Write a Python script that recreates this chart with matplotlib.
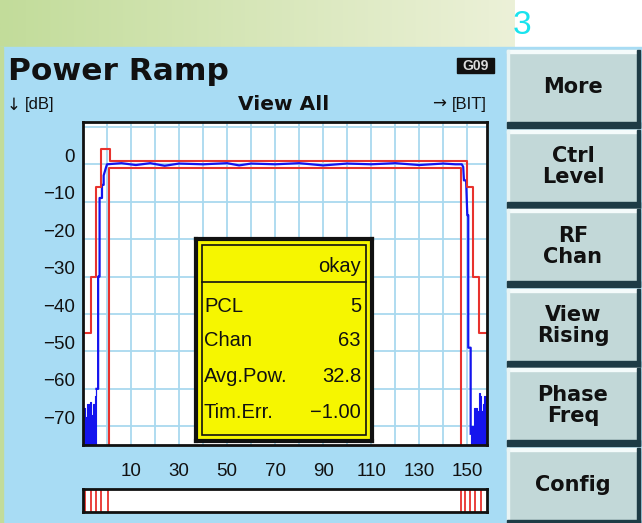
"""Power Ramp screen of a GSM tester, redrawn with matplotlib."""

import matplotlib
matplotlib.use("Agg")  # Non-interactive backend
import matplotlib.pyplot as plt
import matplotlib.transforms as mtransforms
from matplotlib.colors import LinearSegmentedColormap
from matplotlib.patches import Rectangle
import numpy as np

# ---- data ---------------------------------------------------------------
x_ticks = [10, 30, 50, 70, 90, 110, 130, 150]
x_minor = [-10, 0, 20, 40, 60, 80, 100, 120, 140]
y_ticks = [0, -10, -20, -30, -40, -50, -60, -70]
y_minor = [10]

# upper template (red)
upper_x = [-9.9, -6.8, -6.8, -4.4, -4.4, -2.5, -2.5, 1.1, 1.1,
           150.0, 150.0, 152.2, 152.2, 155.0, 155.0, 158.2]
upper_y = [-45, -45, -30, -30, -6, -6, 4, 4, 1,
           1, -6, -6, -30, -30, -45, -45]

# lower template (red)
lower_x = [0.7, 0.7, 147.4, 147.4]
lower_y = [-75, -1, -1, -75]

# measured burst (blue)
burst_x = [-4.4, -4.0, -3.7, -3.7, -3.1, -3.1, -2.1, -2.1, -1.4, -1.4, -0.5, 0.0,
           6, 12, 18, 24, 30, 40, 50, 55, 60, 70, 80, 90, 100, 110, 120,
           130, 140, 145, 147.7,
           148.3, 148.6, 149.5, 150.0, 150.4, 150.4, 151.4, 151.4]
burst_y = [-60, -60, -60, -30, -30, -9, -9, -5.5, -5.5, -3, -1, 0,
           0.3, -0.2, 0.3, -0.4, 0.2, 0.0, 0.3, -0.3, 0.2, 0.0, 0.3, -0.3, 0.2, 0.0, 0.3,
           -0.2, 0.2, 0.0, 0.0,
           -0.7, -4.3, -4.3, -13.6, -13.6, -49, -49, -72]

# noise floor before / after the burst (blue)
noise_l_x = [-9.9, -9.4, -8.9, -8.4, -7.9, -7.4, -6.9, -6.4, -5.9, -5.4, -4.9, -4.4]
noise_l_y = [-65, -65, -67.5, -68, -64, -64, -63.5, -67, -67, -64, -62, -60]
noise_r_x = [151.4, 152.0, 152.6, 153.2, 153.8, 154.4, 155.0, 155.6, 156.2, 156.8, 157.4, 158.2]
noise_r_y = [-72, -70, -70, -65, -65, -66, -61, -62, -66, -64, -62, -66]

# template transition markers in the strip below the graph
marker_x = [-9.0, -6.6, -4.4, -2.5, 0.7, 147.2, 149.2, 151.2, 153.2, 155.6]

result_labels = ["PCL", "Chan", "Avg.Pow.", "Tim.Err."]
result_values = ["5", "63", "32.8", "\u22121.00"]

button_labels = ["More", "Ctrl\nLevel", "RF\nChan", "View\nRising", "Phase\nFreq", "Config"]

# ---- style ----------------------------------------------------------------
W, H = 642, 523
PANEL = "#a8dcf4"
GRID = "#a9d9ef"
RED = "#e8322d"
BLUE = "#1414ee"
INK = "#111111"
FACE = "#c2d8d8"
DARK = "#1e3b45"
REG = ["Liberation Sans", "DejaVu Sans"]
BOLD = ["DejaVu Sans"]


def fig_rect(x0, y0, x1, y1):
    """Pixel box (top-left origin) -> figure fraction rect."""
    return [x0 / W, 1 - y1 / H, (x1 - x0) / W, (y1 - y0) / H]


def draw_background(bg):
    """Green title band, blue panel, softkeys and header texts."""
    grad = np.linspace(0, 1, 256).reshape(1, -1)
    cmap = LinearSegmentedColormap.from_list("band", ["#c2dc9a", "#ecf1d8"])
    bg.imshow(grad, cmap=cmap, extent=(0, 515, 47, 0), aspect="auto")
    bg.add_patch(Rectangle((0, 47), W, H - 47, color=PANEL))
    bg.add_patch(Rectangle((0, 47), 3, H - 47, color="#c2dc9a"))
    bg.text(513, 25, "3", color="#19e3ee", fontsize=24, family=REG,
            ha="left", va="center")

    bg.text(8, 80, "Power Ramp", fontsize=22.5, fontweight="bold", family=BOLD,
            color=INK, va="baseline")
    bg.text(7, 105, "\u2193", fontsize=12, family=BOLD, color=INK, va="center")
    bg.text(25, 105, "[dB]", fontsize=12, family=REG, color=INK, va="center")
    bg.text(284, 104, "View All", fontsize=14.5, fontweight="bold", family=BOLD,
            color=INK, ha="center", va="center")
    bg.text(487, 105, "[BIT]", fontsize=12, family=REG, color=INK,
            ha="right", va="center")
    bg.text(446, 104, "\u2192", fontsize=12, family=BOLD, color=INK,
            ha="right", va="center")
    bg.add_patch(Rectangle((457, 58), 37, 15, color="#101010"))
    bg.text(475.5, 65.5, "G09", fontsize=10, fontweight="bold", family=REG,
            color="#dcdcdc", ha="center", va="center")

    # softkeys
    for i, label in enumerate(button_labels):
        top = 50 + 79.6 * i
        bg.add_patch(Rectangle((507, top), 133, 78, color=FACE))
        bg.add_patch(Rectangle((507, top), 133, 3, color="#f4fbfb"))
        bg.add_patch(Rectangle((507, top), 2, 78, color="#e8f4f4"))
        bg.add_patch(Rectangle((507, top + 72), 133, 6, color=DARK))
        bg.add_patch(Rectangle((637, top), 3, 78, color=DARK))
        bg.text(573, top + 37, label, fontsize=15, fontweight="bold", family=BOLD,
                color=INK, ha="center", va="center", linespacing=1.05)

    bg.set_xlim(0, W)
    bg.set_ylim(H, 0)
    bg.axis("off")


def draw_graph(ax):
    """Power-vs-bit graph with template and measured burst."""
    ax.set_facecolor("white")
    ax.set_xlim(-9.9, 158.2)
    ax.set_ylim(-75, 11.3)
    ax.set_xticks(x_ticks)
    ax.set_xticks(x_minor, minor=True)
    ax.set_yticks(y_ticks)
    ax.set_yticks(y_minor, minor=True)
    ax.grid(True, which="both", color=GRID, lw=1.3)
    ax.set_axisbelow(True)
    ax.tick_params(which="both", length=0, labelsize=13.5, colors=INK)
    ax.tick_params(axis="x", pad=13)
    ax.tick_params(axis="y", pad=6)
    for lab in ax.get_xticklabels() + ax.get_yticklabels():
        lab.set_family(REG)
    # the instrument prints the dB labels a bit above their grid line
    up = mtransforms.ScaledTranslation(0, 9 / 100, ax.figure.dpi_scale_trans)
    for lab in ax.get_yticklabels():
        lab.set_transform(lab.get_transform() + up)
    for s in ax.spines.values():
        s.set_color(INK)
        s.set_linewidth(2)

    ax.fill_between(noise_l_x, noise_l_y, -75, step="mid", color=BLUE, lw=0.8)
    ax.fill_between(noise_r_x, noise_r_y, -75, step="mid", color=BLUE, lw=0.8)
    ax.plot(burst_x, burst_y, color=BLUE, lw=1.6)
    ax.plot(upper_x, upper_y, color=RED, lw=1.5)
    ax.plot(lower_x, lower_y, color=RED, lw=1.5)


def draw_marker_strip(ax):
    """White strip with the template transition markers."""
    ax.set_facecolor("white")
    ax.set_xlim(-9.9, 158.2)
    ax.set_ylim(0, 1)
    ax.set_xticks([])
    ax.set_yticks([])
    for x in marker_x:
        ax.axvline(x, color=RED, lw=1.3)
    for s in ax.spines.values():
        s.set_color(INK)
        s.set_linewidth(2)


def draw_result_box(ax):
    """Yellow result box overlaid on the graph."""
    ax.set_facecolor("#f6f600")
    ax.set_xlim(0, 176)
    ax.set_ylim(202, 0)
    ax.set_xticks([])
    ax.set_yticks([])
    for s in ax.spines.values():
        s.set_color(INK)
        s.set_linewidth(3)
    ax.add_patch(Rectangle((6, 6), 164, 190, fill=False, ec=INK, lw=1.2))
    ax.plot([6, 170], [43, 43], color=INK, lw=1.2)
    ax.text(165, 28, "okay", fontsize=14.5, family=REG, color=INK,
            ha="right", va="center")
    rows = [68, 102, 138, 174]
    for y, lab, val in zip(rows, result_labels, result_values):
        ax.text(8, y, lab, fontsize=14.5, family=REG, color=INK, va="center")
        ax.text(165, y, val, fontsize=14.5, family=REG, color=INK,
                ha="right", va="center")


fig = plt.figure(figsize=(W / 100, H / 100), dpi=100)
bg = fig.add_axes([0, 0, 1, 1])
draw_background(bg)

graph = fig.add_axes(fig_rect(83, 122, 487, 445))
draw_graph(graph)

strip = fig.add_axes(fig_rect(83, 489, 487, 512))
draw_marker_strip(strip)

box = fig.add_axes(fig_rect(196, 239, 372, 441))
draw_result_box(box)

fig.savefig("out.png", dpi=100)
